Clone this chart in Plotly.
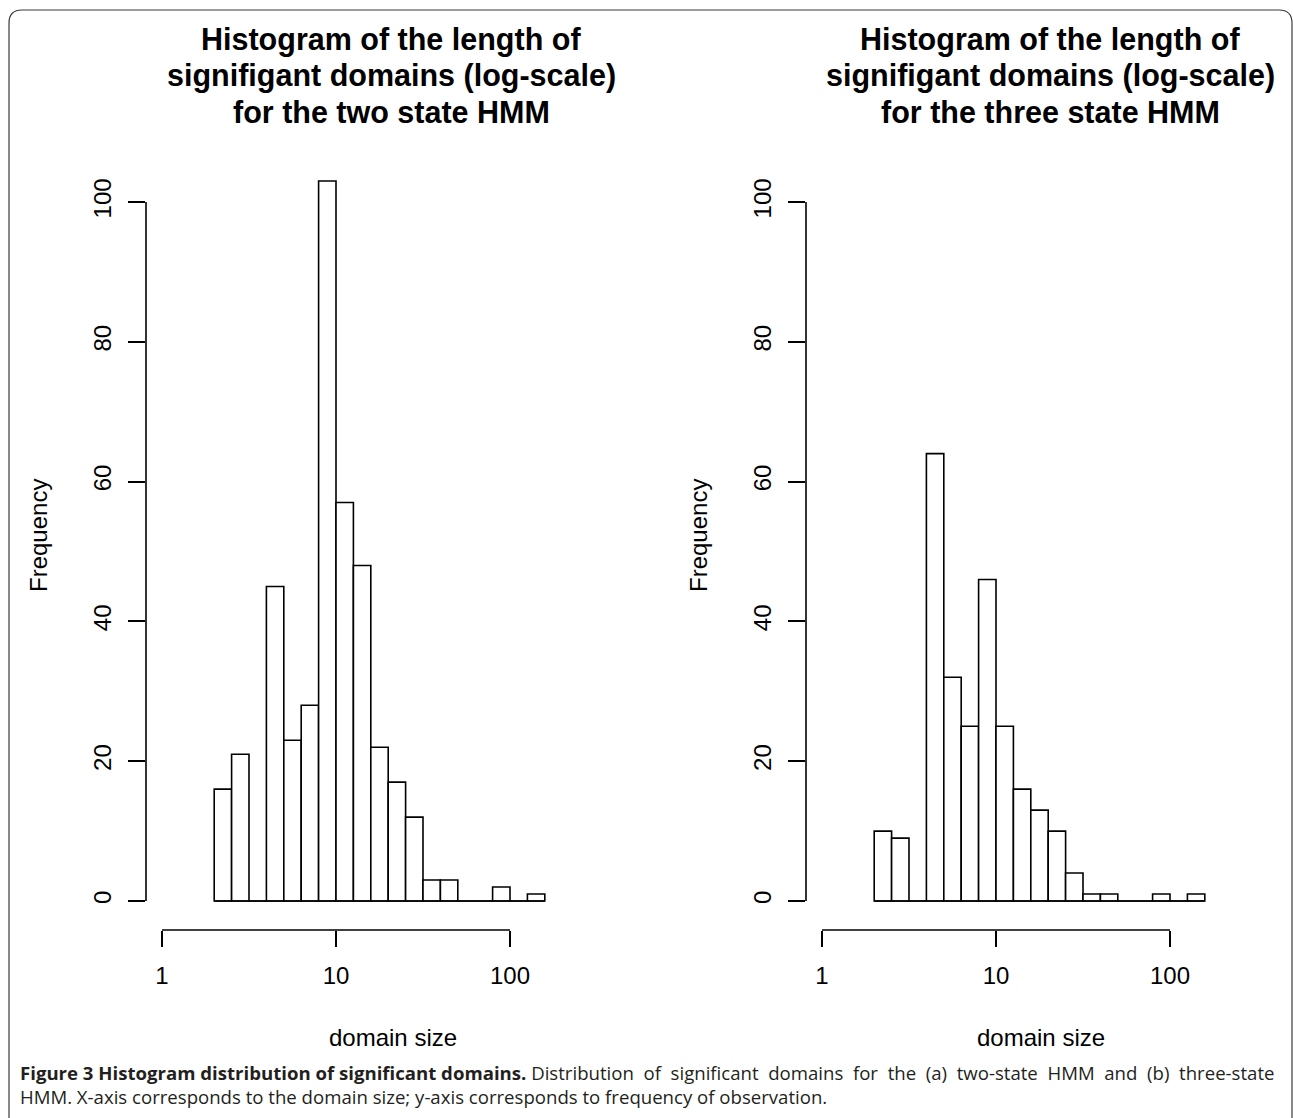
import plotly.graph_objects as go

# ---------------- data ----------------
# histogram bins in log10(domain size): lower edges, width 0.1
bin_lower_log10 = [0.3, 0.4, 0.5, 0.6, 0.7, 0.8, 0.9, 1.0, 1.1, 1.2,
                   1.3, 1.4, 1.5, 1.6, 1.7, 1.8, 1.9, 2.0, 2.1]
bin_width_log10 = 0.1
counts_two_state = [16, 21, 0, 45, 23, 28, 103, 57, 48, 22,
                    17, 12, 3, 3, 0, 0, 2, 0, 1]
counts_three_state = [10, 9, 0, 64, 32, 25, 46, 25, 16, 13,
                      10, 4, 1, 1, 0, 0, 1, 0, 1]
x_tick_log10 = [0, 1, 2]
x_tick_labels = ["1", "10", "100"]
y_tick_vals = [0, 20, 40, 60, 80, 100]
panel_titles = [
    ["Histogram of the length of", "signifigant domains (log-scale)", "for the two state HMM"],
    ["Histogram of the length of", "signifigant domains (log-scale)", "for the three state HMM"],
]
x_title = "domain size"
y_title = "Frequency"
caption_bold = "Figure 3 Histogram distribution of significant domains."
caption_line1_words = ["Distribution", "of", "significant", "domains", "for", "the", "(a)",
                       "two-state", "HMM", "and", "(b)", "three-state"]
caption_line2 = "HMM. X-axis corresponds to the domain size; y-axis corresponds to frequency of observation."

# ---------------- layout helpers ----------------
W, H = 1293, 1118
def px(x):
    return x / W
def py(y):
    return 1 - y / H

FONT = "Liberation Sans, Arial, sans-serif"
scale_x = 174.0      # px per decade
y0_px, y100_px = 901, 202
scale_y = (y0_px - y100_px) / 100.0
plot_top, plot_bot = 152, 930
title_line_y = [39.5, 75.5, 111.5]

panels = [
    dict(counts=counts_two_state, left=146, right=636, one=162, title_cx=391, xt_cx=393, yt_cx=38),
    dict(counts=counts_three_state, left=806, right=1293, one=822, title_cx=1050, xt_cx=1041, yt_cx=698),
]

fig = go.Figure()
shapes = []
annotations = []
layout_axes = {}

for i, p in enumerate(panels):
    n = i + 1
    xa = "x" if n == 1 else f"x{n}"
    ya = "y" if n == 1 else f"y{n}"
    centers = [b + bin_width_log10 / 2 for b in bin_lower_log10]
    fig.add_trace(go.Bar(
        x=centers, y=p["counts"], width=bin_width_log10,
        marker=dict(color="white", line=dict(color="black", width=1.6)),
        xaxis=xa, yaxis=ya, showlegend=False, hoverinfo="x+y",
    ))
    xr = [(p["left"] - p["one"]) / scale_x, (p["right"] - p["one"]) / scale_x]
    yr = [-(plot_bot - y0_px) / scale_y, (y0_px - plot_top) / scale_y]
    layout_axes[f"xaxis{'' if n == 1 else n}"] = dict(
        domain=[px(p["left"]), px(p["right"])], range=xr, anchor=ya,
        showline=False, showgrid=False, zeroline=False,
        tickmode="array", tickvals=x_tick_log10, ticktext=x_tick_labels,
        ticks="outside", ticklen=16, tickwidth=1.6, tickcolor="black",
        tickfont=dict(family=FONT, size=24, color="black"),
        ticklabelstandoff=8,
    )
    layout_axes[f"yaxis{'' if n == 1 else n}"] = dict(
        domain=[py(plot_bot), py(plot_top)], range=yr, anchor=xa,
        showline=False, showgrid=False, zeroline=False,
        tickmode="array", tickvals=y_tick_vals,
        ticks="outside", ticklen=17, tickwidth=1.6, tickcolor="black",
        tickangle=-90,
        tickfont=dict(family=FONT, size=24, color="black"),
        ticklabelstandoff=7,
    )
    # R-style axis lines (span first to last tick)
    shapes.append(dict(type="line", xref=xa, yref=f"{ya} domain",
                       x0=x_tick_log10[0], x1=x_tick_log10[-1], y0=0, y1=0,
                       line=dict(color="black", width=1.6)))
    shapes.append(dict(type="line", xref=f"{xa} domain", yref=ya,
                       x0=0, x1=0, y0=y_tick_vals[0], y1=y_tick_vals[-1],
                       line=dict(color="black", width=1.6)))
    # histogram baseline (zero-count bins)
    shapes.append(dict(type="line", xref=xa, yref=ya,
                       x0=bin_lower_log10[0], x1=bin_lower_log10[-1] + bin_width_log10,
                       y0=0, y1=0, line=dict(color="black", width=1.6)))
    for line_text, ly in zip(panel_titles[i], title_line_y):
        annotations.append(dict(text=f"<b>{line_text}</b>", xref="paper", yref="paper",
                                x=px(p["title_cx"]), y=py(ly), xanchor="center", yanchor="middle",
                                showarrow=False, align="center",
                                font=dict(family=FONT, size=30.5, color="black")))
    annotations.append(dict(text=x_title, xref="paper", yref="paper",
                            x=px(p["xt_cx"]), y=py(1037), xanchor="center", yanchor="middle",
                            showarrow=False, font=dict(family=FONT, size=24, color="black")))
    annotations.append(dict(text=y_title, xref="paper", yref="paper", textangle=-90,
                            x=px(p["yt_cx"]), y=py(536), xanchor="center", yanchor="middle",
                            showarrow=False, font=dict(family=FONT, size=24, color="black")))

# caption (first line justified by widened word gaps)
caption_text = (f"<b>{caption_bold}</b> " + " &nbsp;".join(caption_line1_words)
                + "<br>" + caption_line2)
annotations.append(dict(text=caption_text, xref="paper", yref="paper",
                        x=px(18), y=py(1084), xanchor="left", yanchor="middle",
                        showarrow=False, align="left",
                        font=dict(family="Open Sans, sans-serif", size=18.6, color="#231f20")))

# rounded frame around the figure
fl, ft, fr, fb, r = 9, 10, 1292, 1130, 13
path = (f"M {px(fl)},{py(ft + r)} Q {px(fl)},{py(ft)} {px(fl + r)},{py(ft)} "
        f"L {px(fr - r)},{py(ft)} Q {px(fr)},{py(ft)} {px(fr)},{py(ft + r)} "
        f"L {px(fr)},{py(fb - r)} Q {px(fr)},{py(fb)} {px(fr - r)},{py(fb)} "
        f"L {px(fl + r)},{py(fb)} Q {px(fl)},{py(fb)} {px(fl)},{py(fb - r)} Z")
shapes.append(dict(type="path", xref="paper", yref="paper", path=path,
                   line=dict(color="#3a3a3a", width=1.2)))

fig.update_layout(
    width=W, height=H, margin=dict(l=0, r=0, t=0, b=0),
    paper_bgcolor="white", plot_bgcolor="rgba(0,0,0,0)",
    shapes=shapes, annotations=annotations, showlegend=False,
    **layout_axes,
)

fig.write_html("out.html")
